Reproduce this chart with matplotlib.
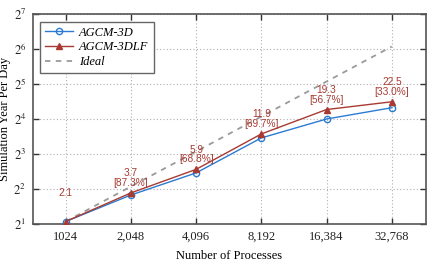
import matplotlib
matplotlib.use("Agg")
import matplotlib.pyplot as plt
import numpy as np

procs = [1024, 2048, 4096, 8192, 16384, 32768]
proc_labels = ["1024", "2,048", "4,096", "8,192", "16,384", "32,768"]
agcm3d = [2.1, 3.55, 5.5, 11.0, 16.0, 20.0]
agcm3dlf = [2.1, 3.7, 5.9, 11.9, 19.3, 22.5]
ideal = [2.1, 4.2, 8.4, 16.8, 33.6, 67.2]
ann_labels = ["2.1", "3.7\n[87.3%]", "5.9\n[68.8%]", "11.9\n[69.7%]", "19.3\n[56.7%]", "22.5\n[33.0%]"]

plt.rcParams['font.family'] = ['Liberation Serif', 'DejaVu Serif']
plt.rcParams['mathtext.fontset'] = 'stix'

fig = plt.figure(figsize=(4.43, 2.66), dpi=100)
ax = fig.add_axes([33/443, 1-224/266, (425.7-33)/443, (224-14)/266])

blue = '#2b7bd3'
red = '#a83a32'
x = np.log2(procs)

ax.plot(x, np.log2(ideal), ls=(0, (3, 3)), color='#9a9a9a', lw=1.3, label='Ideal', zorder=2)
ax.plot(x, np.log2(agcm3d), color=blue, lw=1.0, marker='o', ms=4.5, mfc='none', mec=blue, mew=1.0, label='AGCM-3D', zorder=3)
ax.plot(x, np.log2(agcm3dlf), color=red, lw=1.0, marker='^', ms=4.5, mfc=red, mec=red, label='AGCM-3DLF', zorder=4)

for xi, yi, t in zip(x, np.log2(agcm3dlf), ann_labels):
    off = 24 if '\n' not in t else 5
    ax.annotate(t, (xi, yi), xytext=(0, off), textcoords='offset pixels', ha='center', va='bottom',
                color=red, fontsize=7.3, family=['Liberation Sans', 'DejaVu Sans'], linespacing=0.95)

ax.set_xlim(9.5, 15.52)
ax.set_ylim(1, 7)
ax.set_xticks(x)
ax.set_xticklabels(proc_labels)
ax.set_yticks(range(1, 8))
ax.set_yticklabels([r'$2^{%d}$' % i for i in range(1, 8)])
ax.tick_params(direction='in', length=4, width=1, top=True, right=True, labelsize=9, colors='#333333', labelcolor='#222222', pad=5)
ax.grid(True, ls=(0, (1, 2)), color='#b0b0b0', lw=0.8)
for s in ax.spines.values():
    s.set_color('#555555')
    s.set_linewidth(1.2)

ax.set_xlabel('Number of Processes', fontsize=9, labelpad=5)
ax.set_ylabel('Simulation Year Per Day', fontsize=9, labelpad=2)

h, l = ax.get_legend_handles_labels()
leg = ax.legend([h[1], h[2], h[0]], [l[1], l[2], l[0]], loc='upper left', fancybox=False,
                prop={'style': 'italic', 'size': 9}, edgecolor='#666666', framealpha=1,
                borderpad=0.4, handlelength=2.2, handletextpad=0.5, labelspacing=0.22,
                bbox_to_anchor=(0.003, 0.993))
leg.get_frame().set_linewidth(1.0)

fig.savefig('out.png', dpi=100)
